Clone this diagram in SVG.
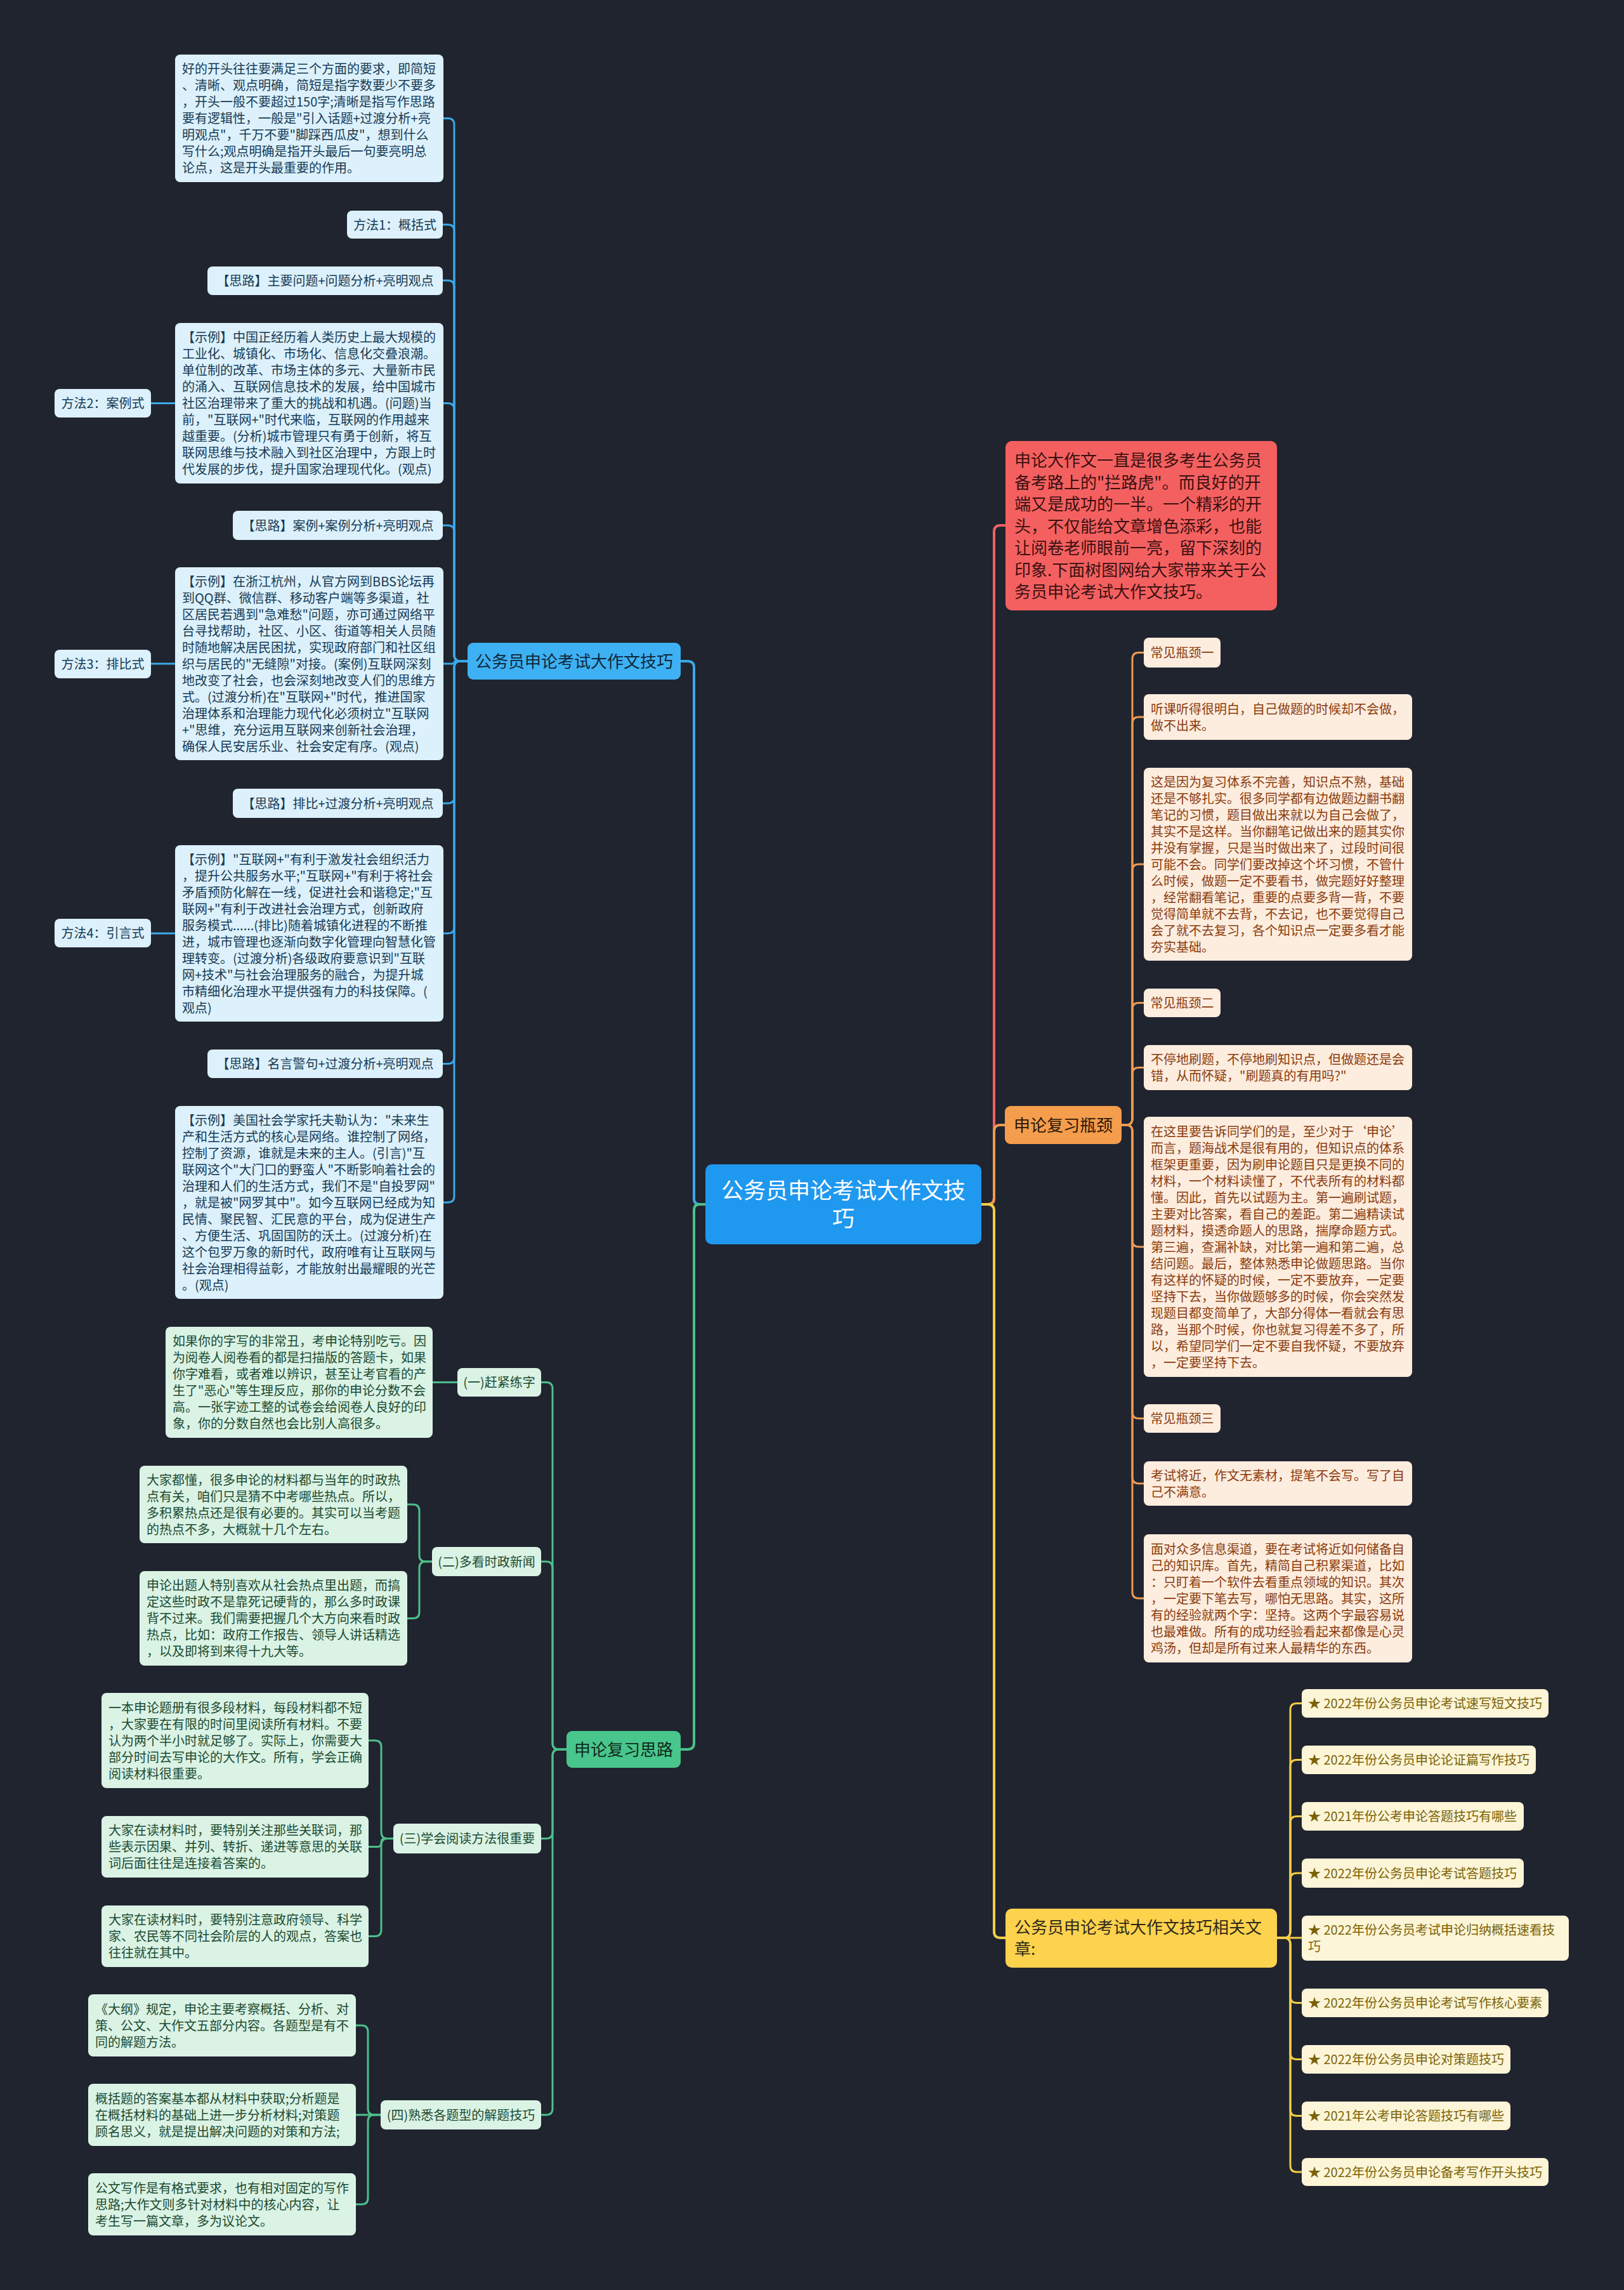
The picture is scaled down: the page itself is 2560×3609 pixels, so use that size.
<svg xmlns="http://www.w3.org/2000/svg" width="2560" height="3609" viewBox="0 0 2560 3609">
<style>
text{font-family:'Noto Sans CJK SC','Noto Sans',sans-serif;font-size:20px}
.conn path{fill:none;stroke-width:3;stroke-linecap:round;stroke-linejoin:round}
.main path{stroke-width:4}
.cb{stroke:#3aa8e8}.cg{stroke:#4cc08a}.co{stroke:#ee9a52}.cr{stroke:#f0625f}.cy{stroke:#f3cd46}
.lb{fill:#dcf1fb}.lg{fill:#daf3e5}.lo{fill:#fdeddf}.ly{fill:#fdf5d7}
.tb{fill:#173a55}.tg{fill:#1c4a30}.to{fill:#8a3b0c}.ty{fill:#7a6205}
.big{font-size:26px}
.m{text-anchor:middle}
</style>
<rect x="0" y="0" width="2560" height="3609" fill="#20242f"/>

<g id="connectors" class="conn">
 <g class="main">
  <path class="cb" d="M1112 1898 H1103 Q1094 1898 1094 1889 V1052 Q1094 1042 1084 1042 H1073"/>
  <path class="cg" d="M1112 1898 H1103 Q1094 1898 1094 1907 V2747 Q1094 2757 1084 2757 H1073"/>
  <path class="cr" d="M1547 1898 H1557 Q1567 1898 1567 1888 V838 Q1567 828 1577 828 H1585"/>
  <path class="co" d="M1547 1898 H1557 Q1567 1898 1567 1888 V1783 Q1567 1773 1577 1773 H1584"/>
  <path class="cy" d="M1547 1898 H1557 Q1567 1898 1567 1908 V3044 Q1567 3054 1577 3054 H1585"/>
 </g>
 <g class="cb">
  <path d="M737 1042 H726 Q716 1042 716 1032 V196.5 Q716 186.5 706 186.5 H698"/>
  <path d="M737 1042 H726 Q716 1042 716 1032 V364 Q716 354 706 354 H698"/>
  <path d="M737 1042 H726 Q716 1042 716 1032 V452 Q716 442 706 442 H698"/>
  <path d="M737 1042 H726 Q716 1042 716 1032 V645.5 Q716 635.5 706 635.5 H698"/>
  <path d="M737 1042 H726 Q716 1042 716 1032 V838 Q716 828 706 828 H698"/>
  <path d="M737 1042 H718 Q716 1042 716 1044 Q716 1046 714 1046 H698"/>
  <path d="M737 1042 H726 Q716 1042 716 1052 V1256 Q716 1266 706 1266 H698"/>
  <path d="M737 1042 H726 Q716 1042 716 1052 V1461 Q716 1471 706 1471 H698"/>
  <path d="M737 1042 H726 Q716 1042 716 1052 V1666.5 Q716 1676.5 706 1676.5 H698"/>
  <path d="M737 1042 H726 Q716 1042 716 1052 V1885 Q716 1895 706 1895 H698"/>
  <path d="M276 635.5 H238"/>
  <path d="M276 1046 H238"/>
  <path d="M276 1471 H238"/>
 </g>
 <g class="cg">
  <path d="M893 2757 H881 Q871 2757 871 2747 V2188.5 Q871 2178.5 861 2178.5 H853"/>
  <path d="M893 2757 H881 Q871 2757 871 2747 V2471 Q871 2461 861 2461 H853"/>
  <path d="M893 2757 H881 Q871 2757 871 2767 V2887.5 Q871 2897.5 861 2897.5 H853"/>
  <path d="M893 2757 H881 Q871 2757 871 2767 V3323 Q871 3333 861 3333 H853"/>
  <path d="M721 2178.5 H682"/>
  <path d="M681 2461 H671 Q661 2461 661 2451 V2381 Q661 2371 651 2371 H642"/>
  <path d="M681 2461 H671 Q661 2461 661 2471 V2540.5 Q661 2550.5 651 2550.5 H642"/>
  <path d="M620 2897.5 H611 Q601 2897.5 601 2887.5 V2753 Q601 2743 591 2743 H581"/>
  <path d="M620 2897.5 H607 Q601 2897.5 601 2903.5 V2904.5 Q601 2910.5 595 2910.5 H581"/>
  <path d="M620 2897.5 H611 Q601 2897.5 601 2907.5 V3041.5 Q601 3051.5 591 3051.5 H581"/>
  <path d="M600 3333 H590 Q580 3333 580 3323 V3202 Q580 3192 570 3192 H561"/>
  <path d="M600 3333 H561"/>
  <path d="M600 3333 H590 Q580 3333 580 3343 V3464 Q580 3474 570 3474 H561"/>
 </g>
 <g class="co">
  <path d="M1768 1773 H1775 Q1785 1773 1785 1763 V1038.5 Q1785 1028.5 1795 1028.5 H1803"/>
  <path d="M1768 1773 H1775 Q1785 1773 1785 1763 V1140 Q1785 1130 1795 1130 H1803"/>
  <path d="M1768 1773 H1775 Q1785 1773 1785 1763 V1372 Q1785 1362 1795 1362 H1803"/>
  <path d="M1768 1773 H1775 Q1785 1773 1785 1763 V1590.5 Q1785 1580.5 1795 1580.5 H1803"/>
  <path d="M1768 1773 H1775 Q1785 1773 1785 1763 V1692.5 Q1785 1682.5 1795 1682.5 H1803"/>
  <path d="M1768 1773 H1775 Q1785 1773 1785 1783 V1955 Q1785 1965 1795 1965 H1803"/>
  <path d="M1768 1773 H1775 Q1785 1773 1785 1783 V2225.5 Q1785 2235.5 1795 2235.5 H1803"/>
  <path d="M1768 1773 H1775 Q1785 1773 1785 1783 V2328 Q1785 2338 1795 2338 H1803"/>
  <path d="M1768 1773 H1775 Q1785 1773 1785 1783 V2509 Q1785 2519 1795 2519 H1803"/>
 </g>
 <g class="cy">
  <path d="M2013 3054 H2024 Q2034 3054 2034 3044 V2694.5 Q2034 2684.5 2044 2684.5 H2052"/>
  <path d="M2013 3054 H2024 Q2034 3054 2034 3044 V2783.5 Q2034 2773.5 2044 2773.5 H2052"/>
  <path d="M2013 3054 H2024 Q2034 3054 2034 3044 V2872.5 Q2034 2862.5 2044 2862.5 H2052"/>
  <path d="M2013 3054 H2024 Q2034 3054 2034 3044 V2962 Q2034 2952 2044 2952 H2052"/>
  <path d="M2013 3054 H2052"/>
  <path d="M2013 3054 H2024 Q2034 3054 2034 3064 V3146.5 Q2034 3156.5 2044 3156.5 H2052"/>
  <path d="M2013 3054 H2024 Q2034 3054 2034 3064 V3235.5 Q2034 3245.5 2044 3245.5 H2052"/>
  <path d="M2013 3054 H2024 Q2034 3054 2034 3064 V3324.5 Q2034 3334.5 2044 3334.5 H2052"/>
  <path d="M2013 3054 H2024 Q2034 3054 2034 3064 V3413 Q2034 3423 2044 3423 H2052"/>
 </g>
</g>

<g id="center">
 <rect x="1112" y="1835" width="435" height="126" rx="10" fill="#1f98ef"/>
 <text class="m" x="1329.5" y="1889" style="font-size:35px" fill="#ffffff"><tspan x="1329.5" y="1889">公务员申论考试大作文技</tspan><tspan x="1329.5" y="1933">巧</tspan></text>
</g>

<g id="branch-blue">
 <rect x="737" y="1013" width="336" height="58" rx="9" fill="#3db1f3"/>
 <text class="big m" x="905" y="1052" fill="#10263a">公务员申论考试大作文技巧</text>
</g>
<g id="branch-green">
 <rect x="893" y="2728" width="180" height="58" rx="9" fill="#48c68c"/>
 <text class="big m" x="983" y="2767" fill="#0f2a1c">申论复习思路</text>
</g>
<g id="branch-orange">
 <rect x="1584" y="1743" width="184" height="60" rx="9" fill="#f49d4c"/>
 <text class="big m" x="1676" y="1783" fill="#2a1606">申论复习瓶颈</text>
</g>
<g id="branch-red">
 <rect x="1585" y="695" width="428" height="267" rx="10" fill="#f46060"/>
 <text class="big" fill="#3a1010"><tspan x="1599" y="735">申论大作文一直是很多考生公务员</tspan><tspan x="1599" y="769.5">备考路上的"拦路虎"。而良好的开</tspan><tspan x="1599" y="804">端又是成功的一半。一个精彩的开</tspan><tspan x="1599" y="838.5">头，不仅能给文章增色添彩，也能</tspan><tspan x="1599" y="873">让阅卷老师眼前一亮，留下深刻的</tspan><tspan x="1599" y="907.5">印象.下面树图网给大家带来关于公</tspan><tspan x="1599" y="942">务员申论考试大作文技巧。</tspan></text>
</g>
<g id="branch-yellow">
 <rect x="1585" y="3008" width="428" height="93" rx="10" fill="#fdd24d"/>
 <text class="big" fill="#2e2a1a"><tspan x="1599" y="3047">公务员申论考试大作文技巧相关文</tspan><tspan x="1599" y="3081">章:</tspan></text>
</g>

<!-- blue leaves -->
<g id="b1"><rect class="lb" x="276" y="86" width="423" height="201" rx="8"/>
 <text class="tb"><tspan x="287" y="116">好的开头往往要满足三个方面的要求，即简短</tspan><tspan x="287" y="142">、清晰、观点明确，简短是指字数要少不要多</tspan><tspan x="287" y="168">，开头一般不要超过150字;清晰是指写作思路</tspan><tspan x="287" y="194">要有逻辑性，一般是"引入话题+过渡分析+亮</tspan><tspan x="287" y="220">明观点"，千万不要"脚踩西瓜皮"，想到什么</tspan><tspan x="287" y="246">写什么;观点明确是指开头最后一句要亮明总</tspan><tspan x="287" y="272">论点，这是开头最重要的作用。</tspan></text></g>
<g id="b2"><rect class="lb" x="547" y="332" width="151" height="44" rx="8"/><text class="tb m" x="622.5" y="361.5">方法1：概括式</text></g>
<g id="b3"><rect class="lb" x="327" y="420" width="371" height="45" rx="8"/><text class="tb m" x="512.5" y="450">【思路】主要问题+问题分析+亮明观点</text></g>
<g id="b4"><rect class="lb" x="276" y="509" width="423" height="253" rx="8"/>
 <text class="tb"><tspan x="287" y="539">【示例】中国正经历着人类历史上最大规模的</tspan><tspan x="287" y="565">工业化、城镇化、市场化、信息化交叠浪潮。</tspan><tspan x="287" y="591">单位制的改革、市场主体的多元、大量新市民</tspan><tspan x="287" y="617">的涌入、互联网信息技术的发展，给中国城市</tspan><tspan x="287" y="643">社区治理带来了重大的挑战和机遇。(问题)当</tspan><tspan x="287" y="669">前，"互联网+"时代来临，互联网的作用越来</tspan><tspan x="287" y="695">越重要。(分析)城市管理只有勇于创新，将互</tspan><tspan x="287" y="721">联网思维与技术融入到社区治理中，方跟上时</tspan><tspan x="287" y="747">代发展的步伐，提升国家治理现代化。(观点)</tspan></text></g>
<g id="b4a"><rect class="lb" x="86" y="613" width="152" height="45" rx="8"/><text class="tb m" x="162" y="643">方法2：案例式</text></g>
<g id="b5"><rect class="lb" x="367" y="805" width="331" height="46" rx="8"/><text class="tb m" x="532.5" y="835.5">【思路】案例+案例分析+亮明观点</text></g>
<g id="b6"><rect class="lb" x="276" y="894" width="423" height="304" rx="8"/>
 <text class="tb"><tspan x="287" y="924">【示例】在浙江杭州，从官方网到BBS论坛再</tspan><tspan x="287" y="950">到QQ群、微信群、移动客户端等多渠道，社</tspan><tspan x="287" y="976">区居民若遇到"急难愁"问题，亦可通过网络平</tspan><tspan x="287" y="1002">台寻找帮助，社区、小区、街道等相关人员随</tspan><tspan x="287" y="1028">时随地解决居民困扰，实现政府部门和社区组</tspan><tspan x="287" y="1054">织与居民的"无缝隙"对接。(案例)互联网深刻</tspan><tspan x="287" y="1080">地改变了社会，也会深刻地改变人们的思维方</tspan><tspan x="287" y="1106">式。(过渡分析)在"互联网+"时代，推进国家</tspan><tspan x="287" y="1132">治理体系和治理能力现代化必须树立"互联网</tspan><tspan x="287" y="1158">+"思维，充分运用互联网来创新社会治理，</tspan><tspan x="287" y="1184">确保人民安居乐业、社会安定有序。(观点)</tspan></text></g>
<g id="b6a"><rect class="lb" x="86" y="1024" width="152" height="45" rx="8"/><text class="tb m" x="162" y="1054">方法3：排比式</text></g>
<g id="b7"><rect class="lb" x="367" y="1243" width="331" height="46" rx="8"/><text class="tb m" x="532.5" y="1273.5">【思路】排比+过渡分析+亮明观点</text></g>
<g id="b8"><rect class="lb" x="276" y="1332" width="423" height="278" rx="8"/>
 <text class="tb"><tspan x="287" y="1362">【示例】"互联网+"有利于激发社会组织活力</tspan><tspan x="287" y="1388">，提升公共服务水平;"互联网+"有利于将社会</tspan><tspan x="287" y="1414">矛盾预防化解在一线，促进社会和谐稳定;"互</tspan><tspan x="287" y="1440">联网+"有利于改进社会治理方式，创新政府</tspan><tspan x="287" y="1466">服务模式......(排比)随着城镇化进程的不断推</tspan><tspan x="287" y="1492">进，城市管理也逐渐向数字化管理向智慧化管</tspan><tspan x="287" y="1518">理转变。(过渡分析)各级政府要意识到"互联</tspan><tspan x="287" y="1544">网+技术"与社会治理服务的融合，为提升城</tspan><tspan x="287" y="1570">市精细化治理水平提供强有力的科技保障。(</tspan><tspan x="287" y="1596">观点)</tspan></text></g>
<g id="b8a"><rect class="lb" x="86" y="1448" width="152" height="45" rx="8"/><text class="tb m" x="162" y="1478">方法4：引言式</text></g>
<g id="b9"><rect class="lb" x="327" y="1654" width="371" height="45" rx="8"/><text class="tb m" x="512.5" y="1684">【思路】名言警句+过渡分析+亮明观点</text></g>
<g id="b10"><rect class="lb" x="276" y="1743" width="423" height="304" rx="8"/>
 <text class="tb"><tspan x="287" y="1773">【示例】美国社会学家托夫勒认为："未来生</tspan><tspan x="287" y="1799">产和生活方式的核心是网络。谁控制了网络，</tspan><tspan x="287" y="1825">控制了资源，谁就是未来的主人。(引言)"互</tspan><tspan x="287" y="1851">联网这个"大门口的野蛮人"不断影响着社会的</tspan><tspan x="287" y="1877">治理和人们的生活方式，我们不是"自投罗网"</tspan><tspan x="287" y="1903">，就是被"网罗其中"。如今互联网已经成为知</tspan><tspan x="287" y="1929">民情、聚民智、汇民意的平台，成为促进生产</tspan><tspan x="287" y="1955">、方便生活、巩固国防的沃土。(过渡分析)在</tspan><tspan x="287" y="1981">这个包罗万象的新时代，政府唯有让互联网与</tspan><tspan x="287" y="2007">社会治理相得益彰，才能放射出最耀眼的光芒</tspan><tspan x="287" y="2033">。(观点)</tspan></text></g>

<!-- green leaves -->
<g id="g1"><rect class="lg" x="721" y="2156" width="132" height="45" rx="8"/><text class="tg m" x="787" y="2186">(一)赶紧练字</text></g>
<g id="g1a"><rect class="lg" x="261" y="2091" width="421" height="175" rx="8"/>
 <text class="tg"><tspan x="272" y="2121">如果你的字写的非常丑，考申论特别吃亏。因</tspan><tspan x="272" y="2147">为阅卷人阅卷看的都是扫描版的答题卡，如果</tspan><tspan x="272" y="2173">你字难看，或者难以辨识，甚至让考官看的产</tspan><tspan x="272" y="2199">生了"恶心"等生理反应，那你的申论分数不会</tspan><tspan x="272" y="2225">高。一张字迹工整的试卷会给阅卷人良好的印</tspan><tspan x="272" y="2251">象，你的分数自然也会比别人高很多。</tspan></text></g>
<g id="g2"><rect class="lg" x="681" y="2438" width="172" height="46" rx="8"/><text class="tg m" x="767" y="2468.5">(二)多看时政新闻</text></g>
<g id="g2a"><rect class="lg" x="220" y="2310" width="422" height="122" rx="8"/>
 <text class="tg"><tspan x="231" y="2340">大家都懂，很多申论的材料都与当年的时政热</tspan><tspan x="231" y="2366">点有关，咱们只是猜不中考哪些热点。所以，</tspan><tspan x="231" y="2392">多积累热点还是很有必要的。其实可以当考题</tspan><tspan x="231" y="2418">的热点不多，大概就十几个左右。</tspan></text></g>
<g id="g2b"><rect class="lg" x="220" y="2476" width="422" height="149" rx="8"/>
 <text class="tg"><tspan x="231" y="2506">申论出题人特别喜欢从社会热点里出题，而搞</tspan><tspan x="231" y="2532">定这些时政不是靠死记硬背的，那么多时政课</tspan><tspan x="231" y="2558">背不过来。我们需要把握几个大方向来看时政</tspan><tspan x="231" y="2584">热点，比如：政府工作报告、领导人讲话精选</tspan><tspan x="231" y="2610">，以及即将到来得十九大等。</tspan></text></g>
<g id="g3"><rect class="lg" x="620" y="2874" width="233" height="47" rx="8"/><text class="tg m" x="736.5" y="2905">(三)学会阅读方法很重要</text></g>
<g id="g3a"><rect class="lg" x="160" y="2668" width="421" height="150" rx="8"/>
 <text class="tg"><tspan x="171" y="2699">一本申论题册有很多段材料，每段材料都不短</tspan><tspan x="171" y="2725">，大家要在有限的时间里阅读所有材料。不要</tspan><tspan x="171" y="2751">认为两个半小时就足够了。实际上，你需要大</tspan><tspan x="171" y="2777">部分时间去写申论的大作文。所有，学会正确</tspan><tspan x="171" y="2803">阅读材料很重要。</tspan></text></g>
<g id="g3b"><rect class="lg" x="160" y="2862" width="421" height="97" rx="8"/>
 <text class="tg"><tspan x="171" y="2892">大家在读材料时，要特别关注那些关联词，那</tspan><tspan x="171" y="2918">些表示因果、并列、转折、递进等意思的关联</tspan><tspan x="171" y="2944">词后面往往是连接着答案的。</tspan></text></g>
<g id="g3c"><rect class="lg" x="160" y="3003" width="421" height="97" rx="8"/>
 <text class="tg"><tspan x="171" y="3033">大家在读材料时，要特别注意政府领导、科学</tspan><tspan x="171" y="3059">家、农民等不同社会阶层的人的观点，答案也</tspan><tspan x="171" y="3085">往往就在其中。</tspan></text></g>
<g id="g4"><rect class="lg" x="600" y="3310" width="253" height="46" rx="8"/><text class="tg m" x="726.5" y="3340.5">(四)熟悉各题型的解题技巧</text></g>
<g id="g4a"><rect class="lg" x="139" y="3143" width="422" height="98" rx="8"/>
 <text class="tg"><tspan x="150" y="3174">《大纲》规定，申论主要考察概括、分析、对</tspan><tspan x="150" y="3200">策、公文、大作文五部分内容。各题型是有不</tspan><tspan x="150" y="3226">同的解题方法。</tspan></text></g>
<g id="g4b"><rect class="lg" x="139" y="3284" width="422" height="98" rx="8"/>
 <text class="tg"><tspan x="150" y="3315">概括题的答案基本都从材料中获取;分析题是</tspan><tspan x="150" y="3341">在概括材料的基础上进一步分析材料;对策题</tspan><tspan x="150" y="3367">顾名思义，就是提出解决问题的对策和方法;</tspan></text></g>
<g id="g4c"><rect class="lg" x="139" y="3425" width="422" height="98" rx="8"/>
 <text class="tg"><tspan x="150" y="3456">公文写作是有格式要求，也有相对固定的写作</tspan><tspan x="150" y="3482">思路;大作文则多针对材料中的核心内容，让</tspan><tspan x="150" y="3508">考生写一篇文章，多为议论文。</tspan></text></g>

<!-- orange leaves -->
<g id="o1"><rect class="lo" x="1803" y="1005" width="121" height="47" rx="8"/><text class="to m" x="1863.5" y="1036">常见瓶颈一</text></g>
<g id="o2"><rect class="lo" x="1803" y="1094" width="423" height="72" rx="8"/>
 <text class="to"><tspan x="1814" y="1125">听课听得很明白，自己做题的时候却不会做，</tspan><tspan x="1814" y="1151">做不出来。</tspan></text></g>
<g id="o3"><rect class="lo" x="1803" y="1210" width="423" height="304" rx="8"/>
 <text class="to"><tspan x="1814" y="1240">这是因为复习体系不完善，知识点不熟，基础</tspan><tspan x="1814" y="1266">还是不够扎实。很多同学都有边做题边翻书翻</tspan><tspan x="1814" y="1292">笔记的习惯，题目做出来就以为自己会做了，</tspan><tspan x="1814" y="1318">其实不是这样。当你翻笔记做出来的题其实你</tspan><tspan x="1814" y="1344">并没有掌握，只是当时做出来了，过段时间很</tspan><tspan x="1814" y="1370">可能不会。同学们要改掉这个坏习惯，不管什</tspan><tspan x="1814" y="1396">么时候，做题一定不要看书，做完题好好整理</tspan><tspan x="1814" y="1422">，经常翻看笔记，重要的点要多背一背，不要</tspan><tspan x="1814" y="1448">觉得简单就不去背，不去记，也不要觉得自己</tspan><tspan x="1814" y="1474">会了就不去复习，各个知识点一定要多看才能</tspan><tspan x="1814" y="1500">夯实基础。</tspan></text></g>
<g id="o4"><rect class="lo" x="1803" y="1558" width="121" height="45" rx="8"/><text class="to m" x="1863.5" y="1588">常见瓶颈二</text></g>
<g id="o5"><rect class="lo" x="1803" y="1647" width="423" height="71" rx="8"/>
 <text class="to"><tspan x="1814" y="1677">不停地刷题，不停地刷知识点，但做题还是会</tspan><tspan x="1814" y="1703">错，从而怀疑，"刷题真的有用吗?"</tspan></text></g>
<g id="o6"><rect class="lo" x="1803" y="1760" width="423" height="410" rx="8"/>
 <text class="to"><tspan x="1814" y="1791">在这里要告诉同学们的是，至少对于‘申论’</tspan><tspan x="1814" y="1817">而言，题海战术是很有用的，但知识点的体系</tspan><tspan x="1814" y="1843">框架更重要，因为刷申论题目只是更换不同的</tspan><tspan x="1814" y="1869">材料，一个材料读懂了，不代表所有的材料都</tspan><tspan x="1814" y="1895">懂。因此，首先以试题为主。第一遍刷试题，</tspan><tspan x="1814" y="1921">主要对比答案，看自己的差距。第二遍精读试</tspan><tspan x="1814" y="1947">题材料，摸透命题人的思路，揣摩命题方式。</tspan><tspan x="1814" y="1973">第三遍，查漏补缺，对比第一遍和第二遍，总</tspan><tspan x="1814" y="1999">结问题。最后，整体熟悉申论做题思路。当你</tspan><tspan x="1814" y="2025">有这样的怀疑的时候，一定不要放弃，一定要</tspan><tspan x="1814" y="2051">坚持下去，当你做题够多的时候，你会突然发</tspan><tspan x="1814" y="2077">现题目都变简单了，大部分得体一看就会有思</tspan><tspan x="1814" y="2103">路，当那个时候，你也就复习得差不多了，所</tspan><tspan x="1814" y="2129">以，希望同学们一定不要自我怀疑，不要放弃</tspan><tspan x="1814" y="2155">，一定要坚持下去。</tspan></text></g>
<g id="o7"><rect class="lo" x="1803" y="2213" width="121" height="45" rx="8"/><text class="to m" x="1863.5" y="2243">常见瓶颈三</text></g>
<g id="o8"><rect class="lo" x="1803" y="2303" width="423" height="70" rx="8"/>
 <text class="to"><tspan x="1814" y="2333">考试将近，作文无素材，提笔不会写。写了自</tspan><tspan x="1814" y="2359">己不满意。</tspan></text></g>
<g id="o9"><rect class="lo" x="1803" y="2418" width="423" height="202" rx="8"/>
 <text class="to"><tspan x="1814" y="2449">面对众多信息渠道，要在考试将近如何储备自</tspan><tspan x="1814" y="2475">己的知识库。首先，精简自己积累渠道，比如</tspan><tspan x="1814" y="2501">：只盯着一个软件去看重点领域的知识。其次</tspan><tspan x="1814" y="2527">，一定要下笔去写，哪怕无思路。其实，这所</tspan><tspan x="1814" y="2553">有的经验就两个字：坚持。这两个字最容易说</tspan><tspan x="1814" y="2579">也最难做。所有的成功经验看起来都像是心灵</tspan><tspan x="1814" y="2605">鸡汤，但却是所有过来人最精华的东西。</tspan></text></g>

<!-- yellow leaves -->
<g id="y1"><rect class="ly" x="2052" y="2662" width="389" height="45" rx="8"/><text class="ty" x="2062" y="2692">★ 2022年份公务员申论考试速写短文技巧</text></g>
<g id="y2"><rect class="ly" x="2052" y="2751" width="369" height="45" rx="8"/><text class="ty" x="2062" y="2781">★ 2022年份公务员申论论证篇写作技巧</text></g>
<g id="y3"><rect class="ly" x="2052" y="2840" width="350" height="45" rx="8"/><text class="ty" x="2062" y="2870">★ 2021年份公考申论答题技巧有哪些</text></g>
<g id="y4"><rect class="ly" x="2052" y="2929" width="350" height="46" rx="8"/><text class="ty" x="2062" y="2959.5">★ 2022年份公务员申论考试答题技巧</text></g>
<g id="y5"><rect class="ly" x="2052" y="3019" width="421" height="71" rx="8"/><text class="ty"><tspan x="2062" y="3049">★ 2022年份公务员考试申论归纳概括速看技</tspan><tspan x="2062" y="3075">巧</tspan></text></g>
<g id="y6"><rect class="ly" x="2052" y="3134" width="389" height="45" rx="8"/><text class="ty" x="2062" y="3164">★ 2022年份公务员申论考试写作核心要素</text></g>
<g id="y7"><rect class="ly" x="2052" y="3223" width="329" height="45" rx="8"/><text class="ty" x="2062" y="3253">★ 2022年份公务员申论对策题技巧</text></g>
<g id="y8"><rect class="ly" x="2052" y="3312" width="329" height="45" rx="8"/><text class="ty" x="2062" y="3342">★ 2021年公考申论答题技巧有哪些</text></g>
<g id="y9"><rect class="ly" x="2052" y="3401" width="389" height="44" rx="8"/><text class="ty" x="2062" y="3430.5">★ 2022年份公务员申论备考写作开头技巧</text></g>
</svg>
